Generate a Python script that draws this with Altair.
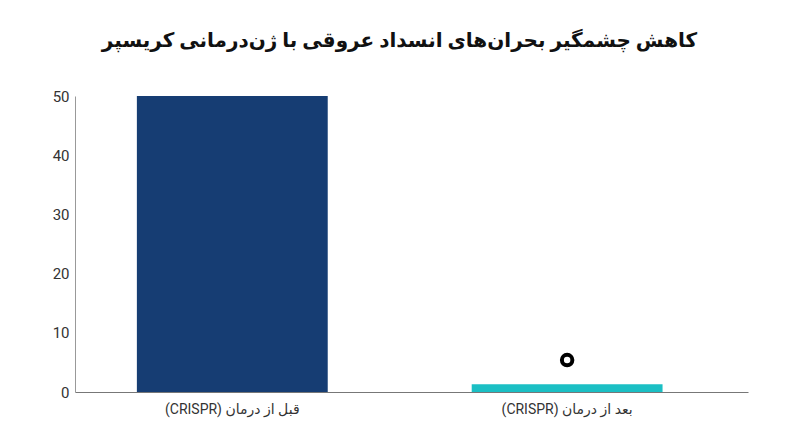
import altair as alt
import pandas as pd

categories = ["\u202bقبل از درمان (CRISPR)\u202c", "\u202bبعد از درمان (CRISPR)\u202c"]
values = [50, 1.3]
colors = ["#163d73", "#1bbfc4"]
marker_category = ["\u202bبعد از درمان (CRISPR)\u202c"]
marker_value = [5.4]

df = pd.DataFrame({"cat": categories, "val": values, "color": colors})
dm = pd.DataFrame({"cat": marker_category, "val": marker_value})

FONT = "Roboto, 'DejaVu Sans', sans-serif"

x_enc = alt.X(
    "cat:N",
    sort=None,
    title=None,
    scale=alt.Scale(paddingInner=0.43, paddingOuter=0.22, align=0.42),
    axis=alt.Axis(labelAngle=0, labelFontSize=14, labelColor="#333333", labelFont=FONT,
                  domainColor="#777777", ticks=False, labelPadding=10),
)

bars = alt.Chart(df).mark_bar().encode(
    x=x_enc,
    y=alt.Y("val:Q", title=None,
            scale=alt.Scale(domain=[0, 50]),
            axis=alt.Axis(values=[0, 10, 20, 30, 40, 50], grid=False, ticks=False,
                          labelFontSize=15, labelColor="#333333", labelFont=FONT,
                          domainColor="#999999", labelPadding=6)),
    color=alt.Color("color:N", scale=None),
)

points = alt.Chart(dm).mark_point(
    shape="circle", filled=False, color="black", strokeWidth=4, size=110, opacity=1
).encode(
    x=alt.X("cat:N", sort=categories),
    y=alt.Y("val:Q"),
)

chart = (bars + points).properties(
    width=673,
    height=296,
    title=alt.TitleParams(
        "کاهش چشمگیر بحران‌های انسداد عروقی با ژن‌درمانی کریسپر",
        fontSize=20, fontWeight="bold", font=FONT, color="#111111",
        anchor="middle", dx=-12, offset=38,
    ),
    autosize=alt.AutoSizeParams(type="none"),
    padding={"left": 67, "top": 88, "right": 44, "bottom": 47},
).configure_view(stroke=None)

chart.save("out.html", embed_options={"renderer": "svg", "actions": False})
